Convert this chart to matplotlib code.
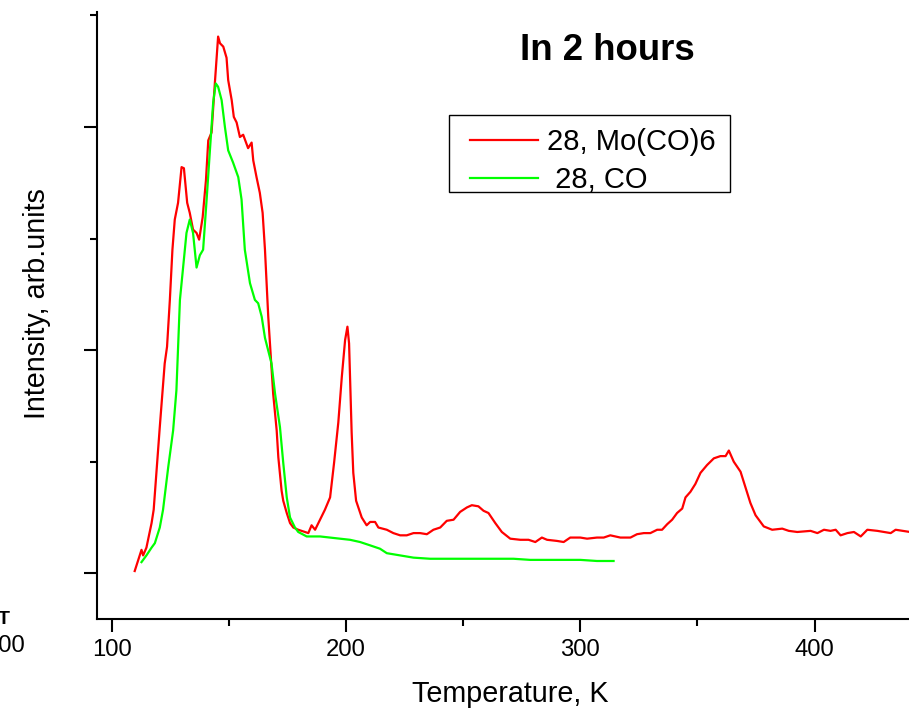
import matplotlib
matplotlib.use("Agg")
import matplotlib.pyplot as plt
from matplotlib.patches import Rectangle
from matplotlib.ticker import MultipleLocator, NullFormatter

plt.rcParams['font.family'] = ['Liberation Sans', 'DejaVu Sans']

# TPD spectra, mass 28, after 2 hours
temp_moco6 = [109.8, 112.7, 113.4, 114.8, 117.0, 117.9, 120.5, 122.6, 123.6, 124.8,
              125.9, 126.9, 128.3, 129.8, 130.8, 132.2, 133.3, 134.7, 136.2, 137.3,
              138.8, 140.2, 141.2, 142.6, 144.0, 145.4, 146.2, 147.6, 149.0, 149.7,
              151.2, 152.1, 153.3, 154.7, 156.1, 158.2, 159.7, 160.4, 161.8, 163.2,
              164.4, 165.4, 166.8, 168.2, 168.9, 170.4, 171.1, 172.5, 173.2, 174.7,
              176.1, 177.5, 179.6, 183.9, 185.3, 186.8, 188.9, 191.0, 193.2, 194.9,
              196.7, 198.2, 199.6, 200.6, 201.3, 202.4, 203.1, 204.3, 206.7, 208.8,
              210.3, 212.4, 213.8, 217.4, 220.2, 223.1, 225.9, 228.8, 231.6, 234.5,
              237.3, 240.2, 243.0, 245.9, 248.7, 251.6, 253.7, 256.5, 258.7, 260.8,
              263.7, 266.5, 270.1, 274.4, 277.9, 280.8, 283.6, 285.8, 290.0, 292.9,
              295.7, 300.0, 302.9, 307.1, 310.0, 312.8, 317.1, 321.4, 324.2, 327.1,
              329.9, 332.8, 334.9, 337.1, 339.2, 341.3, 343.5, 344.9, 347.0, 349.1,
              351.3, 354.1, 357.0, 359.8, 362.0, 363.4, 365.5, 368.4, 370.5, 372.6,
              374.8, 378.3, 381.9, 386.2, 389.0, 392.6, 398.3, 401.2, 404.0, 406.8,
              409.0, 411.1, 414.0, 416.8, 419.7, 422.5, 426.8, 429.6, 432.5, 434.6,
              440.6, 444.0]
int_moco6 = [0.02, 0.21, 0.16, 0.23, 0.45, 0.57, 1.31, 1.88, 2.03, 2.45,
             2.90, 3.17, 3.32, 3.64, 3.63, 3.32, 3.23, 3.08, 3.05, 2.99,
             3.19, 3.52, 3.88, 3.95, 4.39, 4.81, 4.75, 4.72, 4.62, 4.42,
             4.24, 4.09, 4.04, 3.91, 3.93, 3.81, 3.86, 3.70, 3.55, 3.41,
             3.23, 2.90, 2.30, 1.85, 1.61, 1.28, 1.04, 0.74, 0.65, 0.54,
             0.45, 0.41, 0.39, 0.36, 0.43, 0.39, 0.48, 0.57, 0.68, 0.99,
             1.35, 1.76, 2.09, 2.21, 2.06, 1.26, 0.90, 0.65, 0.50, 0.43,
             0.46, 0.46, 0.41, 0.39, 0.36, 0.34, 0.34, 0.36, 0.36, 0.35,
             0.39, 0.41, 0.47, 0.48, 0.55, 0.59, 0.61, 0.60, 0.56, 0.54,
             0.45, 0.37, 0.31, 0.30, 0.30, 0.28, 0.32, 0.30, 0.29, 0.28,
             0.32, 0.32, 0.31, 0.32, 0.32, 0.34, 0.32, 0.32, 0.35, 0.36,
             0.36, 0.39, 0.39, 0.44, 0.48, 0.54, 0.58, 0.68, 0.73, 0.80,
             0.90, 0.97, 1.03, 1.05, 1.05, 1.10, 1.00, 0.91, 0.77, 0.63,
             0.52, 0.42, 0.39, 0.40, 0.38, 0.37, 0.38, 0.36, 0.39, 0.38,
             0.39, 0.34, 0.36, 0.37, 0.33, 0.39, 0.38, 0.37, 0.36, 0.39,
             0.37, 0.37]

temp_co = [112.7, 114.8, 117.0, 118.4, 120.5, 121.9, 124.1, 126.2, 127.6, 129.1,
           131.2, 131.9, 133.3, 134.7, 136.2, 137.6, 139.0, 140.5, 141.9, 143.3,
           144.4, 145.4, 146.9, 148.3, 149.7, 151.8, 154.0, 155.4, 156.8, 159.0,
           161.1, 162.5, 164.0, 165.4, 168.2, 169.7, 171.8, 173.2, 174.7, 176.1,
           178.2, 179.6, 183.2, 188.9, 197.4, 201.7, 206.0, 210.3, 214.5, 217.4,
           223.1, 228.8, 235.9, 243.0, 250.1, 257.3, 264.4, 271.5, 278.6, 285.8,
           292.9, 300.0, 307.1, 314.2]
int_co = [0.10, 0.16, 0.23, 0.27, 0.41, 0.57, 0.95, 1.28, 1.64, 2.45,
          2.90, 3.05, 3.17, 3.05, 2.74, 2.85, 2.90, 3.35, 3.79, 4.22,
          4.39, 4.36, 4.24, 4.00, 3.79, 3.68, 3.55, 3.35, 2.90, 2.60,
          2.45, 2.42, 2.30, 2.11, 1.88, 1.61, 1.31, 0.99, 0.68, 0.50,
          0.41, 0.37, 0.33, 0.33, 0.31, 0.30, 0.28, 0.25, 0.22, 0.18,
          0.16, 0.14, 0.13, 0.13, 0.13, 0.13, 0.13, 0.13, 0.12, 0.12,
          0.12, 0.12, 0.11, 0.11]

fig = plt.figure(figsize=(9.09, 7.12), dpi=100)
ax = fig.add_axes([0.1067, 0.1306, 0.8933, 0.8525])

ax.plot(temp_moco6, int_moco6, color='#ff0000', lw=1.6, label='28, Mo(CO)6')
ax.plot(temp_co, int_co, color='#00ff00', lw=1.6, label=' 28, CO')

ax.set_xlim(93.7, 440.3)
ax.set_ylim(-0.41, 5.03)

for side in ('top', 'right'):
    ax.spines[side].set_visible(False)
for side in ('left', 'bottom'):
    ax.spines[side].set_linewidth(1.5)

ax.xaxis.set_major_locator(MultipleLocator(100))
ax.xaxis.set_minor_locator(MultipleLocator(50))
ax.yaxis.set_major_locator(MultipleLocator(2))
ax.yaxis.set_minor_locator(MultipleLocator(1))
ax.yaxis.set_major_formatter(NullFormatter())
ax.tick_params(axis='both', which='major', direction='out', length=9.5, width=1.5,
               labelsize=17.2, pad=5)
ax.tick_params(axis='both', which='minor', direction='out', length=5, width=1.5)

ax.set_xlabel('Temperature, K', fontsize=20.7)
ax.xaxis.set_label_coords(0.509, -0.101)
ax.set_ylabel('Intensity, arb.units', fontsize=20.7)
ax.yaxis.set_label_coords(-0.0565, 0.52)

fig.text(0.668, 0.929, 'In 2 hours', fontsize=26.4, fontweight='bold',
         ha='center', va='center')

# legend entries without frame, box drawn separately
ax.legend(loc='upper left', bbox_to_anchor=(0.517, 0.8205),
          bbox_transform=fig.transFigure, fontsize=21, frameon=False,
          borderaxespad=0, borderpad=0, handlelength=2.33, handletextpad=0.31,
          labelspacing=0.34)
fig.patches.append(Rectangle((449 / 909, 1 - 192 / 712), 281 / 909, 77 / 712,
                             transform=fig.transFigure, fill=False,
                             edgecolor='black', lw=1.0))

# pieces of the neighbouring panel that show at the left edge
fig.text(0.004, 0.130, 'T', fontsize=14, fontweight='bold', ha='center', va='center')
fig.text(0.027, 0.093, '300', fontsize=17.2, ha='right', va='center')

fig.savefig('out.png', dpi=100)
